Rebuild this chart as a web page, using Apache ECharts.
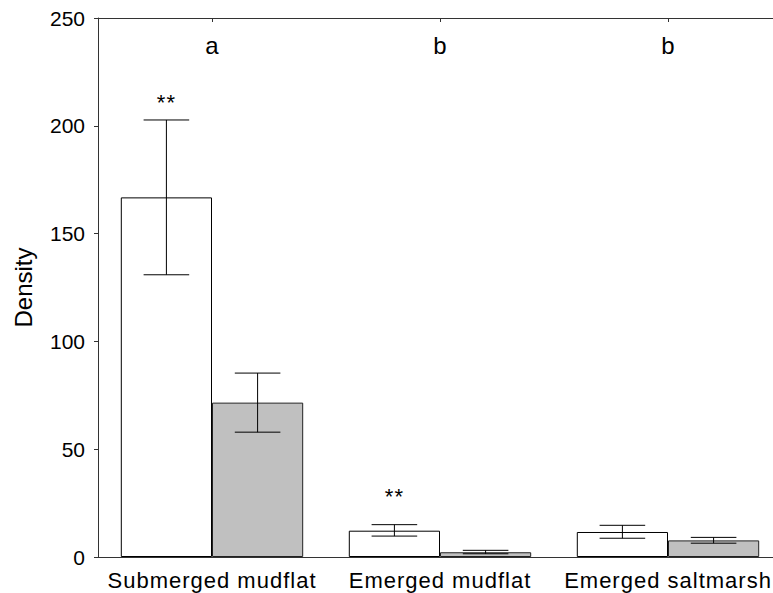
<!DOCTYPE html>
<html><head><meta charset="utf-8">
<script src="https://cdn.jsdelivr.net/npm/echarts@6/dist/echarts.min.js"></script>
<style>
html,body{margin:0;padding:0;background:#fff;overflow:hidden;width:773px;height:593px;}
#chart{width:782px;height:593px;}
#chart svg text[style*="22px"]{letter-spacing:1px;}
</style>
</head><body>
<div id="chart"></div>
<script>
const categories = ['Submerged mudflat', 'Emerged mudflat', 'Emerged saltmarsh'];
const whiteValues = [166.8, 12.2, 11.6];
const whiteUpper = [202.7, 15.0, 14.7];
const whiteLower = [130.9, 9.7, 8.7];
const grayValues = [71.6, 2.2, 7.7];
const grayUpper = [85.3, 3.1, 9.1];
const grayLower = [57.9, 1.5, 6.4];
const groupLetters = ['a', 'b', 'b'];
const letterY = [243, 243, 243];
const starMarks = ['**', '**', ''];
const starY = [216, 33, 0];
const yTicks = [0, 50, 100, 150, 200, 250];

const FONT = 'Liberation Sans';
const chart = echarts.init(document.getElementById('chart'), null, {renderer: 'svg'});

function errRender(offsetSign) {
  return function (params, api) {
    const i = api.value(0);
    const hi = api.value(1), lo = api.value(2);
    const band = api.size([1, 0])[0];
    const cx = api.coord([i, 0])[0] + offsetSign * band * 0.2;
    const yHi = api.coord([i, hi])[1];
    const yLo = api.coord([i, lo])[1];
    const hw = band * 0.1;
    const st = {stroke: '#000', lineWidth: 1};
    return {type: 'group', children: [
      {type: 'line', shape: {x1: cx, y1: yHi, x2: cx, y2: yLo}, style: st},
      {type: 'line', shape: {x1: cx - hw, y1: yHi, x2: cx + hw, y2: yHi}, style: st},
      {type: 'line', shape: {x1: cx - hw, y1: yLo, x2: cx + hw, y2: yLo}, style: st}
    ]};
  };
}

function textRender(offsetFrac, size) {
  return function (params, api) {
    const i = api.value(0);
    const band = api.size([1, 0])[0];
    const p = api.coord([i, api.value(1)]);
    return {type: 'text', x: p[0] + offsetFrac * band, y: p[1],
      style: {text: api.value(2), fill: '#000', fontSize: size, fontFamily: FONT, align: 'center', verticalAlign: 'top'}};
  };
}

const errWhite = categories.map((c, i) => [i, whiteUpper[i], whiteLower[i]]);
const errGray = categories.map((c, i) => [i, grayUpper[i], grayLower[i]]);
const letters = categories.map((c, i) => [i, letterY[i], groupLetters[i]]);
const stars = categories.map((c, i) => [i, starY[i], starMarks[i]]).filter(d => d[2]);

chart.setOption({
  animation: false,
  backgroundColor: '#fff',
  grid: {left: 98, top: 18, right: 0, bottom: 36},
  xAxis: [
    {type: 'category', data: categories, position: 'bottom',
     axisLine: {lineStyle: {color: '#333', width: 1}},
     axisTick: {show: false},
     axisLabel: {color: '#000', fontSize: 22, fontFamily: FONT, margin: 12, interval: 0}},
    {type: 'category', data: categories, position: 'top',
     axisLine: {lineStyle: {color: '#333', width: 1}},
     axisTick: {show: true, inside: true, length: 4, alignWithLabel: true, lineStyle: {color: '#333'}},
     axisLabel: {show: false}}
  ],
  yAxis: {type: 'value', min: 0, max: 250, interval: 50,
    name: 'Density', nameLocation: 'middle', nameGap: 63, nameRotate: 90,
    nameTextStyle: {color: '#000', fontSize: 24, fontFamily: FONT},
    axisLine: {show: true, lineStyle: {color: '#333', width: 1}},
    axisTick: {show: true, length: 4, lineStyle: {color: '#333'}},
    axisLabel: {color: '#000', fontSize: 21, fontFamily: FONT, margin: 13,
      formatter: v => yTicks.indexOf(v) >= 0 ? String(v) : ''},
    splitLine: {show: false}},
  series: [
    {type: 'bar', data: whiteValues, barGap: '0%', barCategoryGap: '20%',
     itemStyle: {color: '#fff', borderColor: '#000', borderWidth: 1}},
    {type: 'bar', data: grayValues, barGap: '0%', barCategoryGap: '20%',
     itemStyle: {color: '#c0c0c0', borderColor: '#222', borderWidth: 1}},
    {type: 'custom', data: errWhite, renderItem: errRender(-1), encode: {x: 0, y: [1, 2]}, z: 5},
    {type: 'custom', data: errGray, renderItem: errRender(1), encode: {x: 0, y: [1, 2]}, z: 5},
    {type: 'custom', data: letters, renderItem: textRender(0, 24), encode: {x: 0, y: 1}, z: 6},
    {type: 'custom', data: stars, renderItem: textRender(-0.2, 22), encode: {x: 0, y: 1}, z: 6}
  ]
});
</script>
</body></html>
